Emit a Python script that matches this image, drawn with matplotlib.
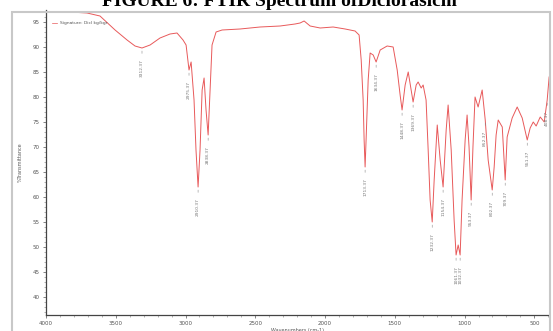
import matplotlib.pyplot as plt
from matplotlib.patches import Rectangle
from matplotlib.ticker import MultipleLocator

# spectrum: wavenumber (cm-1) and %T
wavenumber = [3993, 3828, 3706, 3613, 3505, 3419, 3362, 3312, 3254, 3183, 3111, 3061,
              3018, 2996, 2975, 2960, 2939, 2925, 2910, 2896, 2881, 2867, 2853, 2838,
              2824, 2810, 2781, 2738, 2609, 2466, 2322, 2215, 2179, 2150, 2107, 2035,
              1942, 1856, 1785, 1756, 1741, 1727, 1720, 1713, 1706, 1691, 1677, 1655,
              1634, 1605, 1555, 1512, 1483, 1462, 1448, 1426, 1404, 1383, 1369, 1347,
              1333, 1311, 1297, 1276, 1261, 1247, 1232, 1218, 1196, 1175, 1154, 1132,
              1118, 1096, 1075, 1061, 1046, 1032, 1018, 996, 982, 968, 953, 940, 925,
              903, 874, 852, 831, 802, 788, 774, 759, 730, 709, 695, 659, 623, 587,
              551, 530, 508, 487, 458, 429, 408, 394]
transmittance = [97.0, 97.0, 96.8, 96.2, 93.4, 91.4, 90.2, 89.8, 90.4, 91.8, 92.6, 92.8,
                 91.4, 90.4, 85.4, 87.0, 79.4, 69.4, 62.0, 69.4, 81.4, 83.8, 77.4, 72.4,
                 81.4, 90.4, 93.0, 93.4, 93.6, 94.0, 94.2, 94.6, 94.8, 95.2, 94.2, 93.8,
                 94.0, 93.6, 93.2, 92.4, 87.4, 79.4, 71.4, 66.0, 71.4, 83.4, 88.8, 88.4,
                 87.0, 89.4, 90.2, 90.0, 85.4, 80.4, 77.4, 82.4, 85.0, 81.4, 79.0, 82.4,
                 83.0, 81.8, 82.4, 79.4, 69.4, 59.4, 55.0, 63.4, 74.4, 67.4, 62.0, 73.4,
                 78.4, 69.4, 55.4, 48.4, 50.4, 48.4, 59.4, 71.4, 76.4, 70.0, 59.4, 70.0,
                 80.0, 78.0, 81.4, 75.4, 67.4, 61.4, 66.0, 72.4, 75.4, 74.0, 63.4, 72.0,
                 75.8, 78.0, 75.8, 71.4, 73.8, 75.0, 74.2, 76.0, 75.0, 79.4, 84.0]

# labelled bands (position, %T at the dip)
peak_wn = [3312, 2975, 2910, 2838, 1713, 1634, 1448, 1369, 1232, 1154, 1061, 1032,
           953, 852, 802, 709, 551, 408]
peak_t = [89.8, 85.4, 62.0, 72.4, 66.0, 87.0, 77.4, 79.0, 55.0, 62.0, 48.4, 48.4,
          59.4, 75.4, 61.4, 63.4, 71.4, 79.4]

x_ticks = [4000, 3500, 3000, 2500, 2000, 1500, 1000, 500]
y_ticks = [40, 45, 50, 55, 60, 65, 70, 75, 80, 85, 90, 95]

fig = plt.figure(figsize=(5.53, 3.31), dpi=100)
ax = fig.add_axes([46 / 553, 16 / 331, 503 / 553, 305 / 331])

ax.plot(wavenumber, transmittance, color='#e8595a', lw=0.7)

for wn, t in zip(peak_wn, peak_t):
    ax.annotate('%.2f' % (wn + 0.37), xy=(wn, t - 0.6), xytext=(wn, t - 2.2),
                rotation=90, ha='center', va='top', fontsize=3.2, color='#777777',
                arrowprops=dict(arrowstyle='-', color='#888888', lw=0.4))

ax.set_xlim(4000, 395)
ax.set_ylim(36.4, 97.4)
ax.set_xticks(x_ticks)
ax.set_yticks(y_ticks)
ax.xaxis.set_minor_locator(MultipleLocator(100))
ax.yaxis.set_minor_locator(MultipleLocator(1))
ax.tick_params(labelsize=4, colors='#555555', length=2.5, width=0.5, pad=2)
ax.tick_params(which='minor', length=1.2, width=0.4, colors='#777777')
for side in ['top', 'right']:
    ax.spines[side].set_visible(False)
for side in ['left', 'bottom']:
    ax.spines[side].set_color('#444444')
    ax.spines[side].set_linewidth(0.9)

ax.set_xlabel('Wavenumbers (cm-1)', fontsize=3.5, color='#555555', labelpad=1)
ax.set_ylabel('%Transmittance', fontsize=3.5, color='#555555', labelpad=7)

ax.plot([3960, 3920], [94.8, 94.8], color='#e8595a', lw=0.5)
ax.text(3900, 94.8, 'Signature: Dicl kg/kgr', fontsize=3.2, color='#555555', va='center')

# screenshot border
fig.patches.append(Rectangle((12 / 553, -0.01), 538 / 553, 322 / 331, transform=fig.transFigure,
                             fill=False, edgecolor='#c8c8c8', lw=1.5))

fig.text(0.505, 325 / 331, 'FIGURE 6: FTIR Spectrum ofDiclorasicm', ha='center', va='baseline',
         fontsize=14, fontweight='bold', family='Liberation Serif')

fig.savefig('out.png', dpi=100)
